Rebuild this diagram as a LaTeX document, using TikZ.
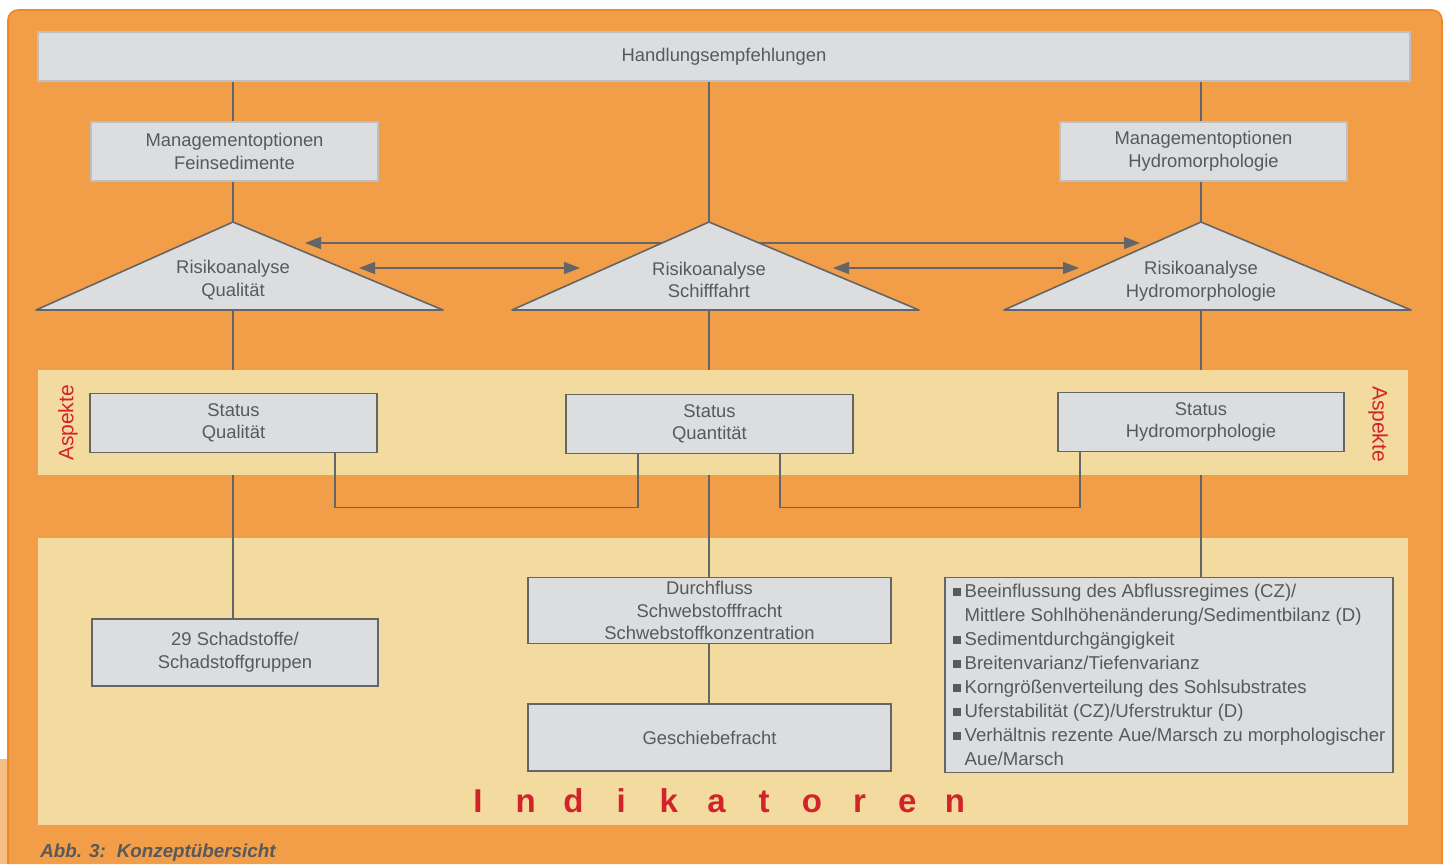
\documentclass[tikz,border=0pt]{standalone}
\usepackage{fontspec}
\setmainfont{Liberation Sans}
\usepackage{tikz}
\usetikzlibrary{arrows.meta, positioning, calc}
\definecolor{framebg}{RGB}{242,157,71}
\definecolor{frameline}{RGB}{237,137,38}
\definecolor{framelight}{RGB}{246,190,133}
\definecolor{bandbg}{RGB}{243,218,159}
\definecolor{boxgray}{RGB}{220,221,222}
\definecolor{edgelight}{RGB}{190,191,193}
\definecolor{edgedark}{RGB}{100,101,104}
\definecolor{textgray}{RGB}{88,89,91}
\definecolor{signalred}{RGB}{210,35,42}
\newcommand{\sqbul}{\makebox[6pt][l]{\rule[1pt]{4pt}{4pt}}}
\newcommand{\lbox}[1]{\makebox[23.85pt]{#1}}

\begin{document}
\begin{tikzpicture}[x=0.5pt, y=-0.5pt,
    softbox/.style={rectangle, draw=edgelight, fill=boxgray, line width=0.7pt, inner sep=0pt,
                 align=center, text=textgray, font=\fontsize{9.2}{11.3}\selectfont},
    hardbox/.style={softbox, draw=edgedark, line width=0.9pt},
    band/.style={rectangle, fill=bandbg, inner sep=0pt, minimum width=685pt},
    riskshape/.style={draw=edgedark, fill=boxgray, line width=0.8pt, line join=round},
    risktext/.style={align=center, inner sep=0pt, text=textgray, font=\fontsize{9.2}{11.3}\selectfont},
    conn/.style={draw=edgedark, line width=0.7pt},
    twoway/.style={conn, {Triangle[length=8pt,width=6pt]}-{Triangle[length=8pt,width=6pt]}},
    sidetag/.style={text=signalred, inner sep=0pt, font=\fontsize{10.5}{12}\selectfont}
]
    \useasboundingbox (0,0) rectangle (1448,864);
    % frame and bands
    \fill[framelight] (0,759) rectangle (7,864);
    \path[fill=framebg, draw=frameline, line width=0.8pt, rounded corners=5pt]
        (8,864) -- (8,10) -- (1442,10) -- (1442,864);
    \node[band, minimum height=52.5pt] (aspekte) at (723,422.5) {};
    \node[band, minimum height=143.5pt] (indik) at (723,681.5) {};

    % recommendations and options
    \node[softbox, minimum width=686pt, minimum height=24.5pt] (hand) at (724,56.5) {Handlungsempfehlungen};
    \node[softbox, minimum width=143.5pt, minimum height=29.5pt] (mgmtF) at (234.5,151.5) {Managementoptionen\\Feinsedimente};
    \node[softbox, minimum width=143.5pt, minimum height=29.5pt] (mgmtH) at (1203.5,151.5) {Managementoptionen\\Hydromorphologie};

    % risk analyses
    \coordinate (apexQ) at (233,222);
    \coordinate (apexS) at (709,222);
    \coordinate (apexH) at (1201,222);
    \draw[twoway] ([shift={(72,21)}]apexQ) -- ([shift={(-61,21)}]apexH);
    \filldraw[riskshape] (apexQ) -- ++(210,88) -- ++(-407,0) -- cycle;
    \filldraw[riskshape] (apexS) -- ++(210,88) -- ++(-407,0) -- cycle;
    \filldraw[riskshape] (apexH) -- ++(210,88) -- ++(-407,0) -- cycle;
    \node[risktext] (riskQ) at (233,280) {Risikoanalyse\\Qualität};
    \node[risktext] (riskS) at (709,280) {Risikoanalyse\\Schifffahrt};
    \node[risktext] (riskH) at (1201,281) {Risikoanalyse\\Hydromorphologie};
    \draw[twoway] ([shift={(126,46)}]apexQ) -- ([shift={(-129,46)}]apexS);
    \draw[twoway] ([shift={(124,46)}]apexS) -- ([shift={(-122,46)}]apexH);

    \draw[conn] (hand.south -| apexQ) -- (mgmtF.north -| apexQ);
    \draw[conn] (mgmtF.south -| apexQ) -- (apexQ);
    \draw[conn] (hand.south -| apexS) -- (apexS);
    \draw[conn] (hand.south -| apexH) -- (mgmtH.north -| apexH);
    \draw[conn] (mgmtH.south -| apexH) -- (apexH);
    \draw[conn] ([shift={(0,88)}]apexQ) -- (aspekte.north -| apexQ);
    \draw[conn] ([shift={(0,88)}]apexS) -- (aspekte.north -| apexS);
    \draw[conn] ([shift={(0,88)}]apexH) -- (aspekte.north -| apexH);

    % aspects
    \node[hardbox, minimum width=143.5pt, minimum height=29.5pt] (statQ) at (233.5,423) {Status\\Qualität};
    \node[hardbox, minimum width=143.5pt, minimum height=29.5pt] (statM) at (709.5,424) {Status\\Quantität};
    \node[hardbox, minimum width=143pt, minimum height=29.5pt] (statH) at (1201,422) {Status\\Hydromorphologie};
    \node[sidetag, rotate=90] (aspL) at (68,423) {Aspekte};
    \node[sidetag, rotate=-90] (aspR) at (1378,424) {Aspekte};
    \draw[conn] ([xshift=50.75pt]statQ.south) -- ++(0,54) -| ([xshift=-35.75pt]statM.south);
    \draw[conn] ([xshift=35.25pt]statM.south) -- ++(0,53) -| ([xshift=-60.5pt]statH.south);

    % indicators
    \node[hardbox, minimum width=143pt, minimum height=33.5pt] (schad) at (235,652.5) {29 Schadstoffe/\\Schadstoffgruppen};
    \node[hardbox, minimum width=181.5pt, minimum height=33pt] (durch) at (709.5,610.5) {Durchfluss\\Schwebstofffracht\\Schwebstoffkonzentration};
    \node[hardbox, minimum width=181.5pt, minimum height=33.5pt] (gesch) at (709.5,737.5) {Geschiebefracht};
    \node[hardbox, minimum width=224pt, minimum height=97.5pt, align=left, font=\fontsize{9.3}{12}\selectfont] (hydro) at (1169,675)
        {\sqbul Beeinflussung des Abflussregimes (CZ)/\\
         \hspace*{6pt}Mittlere Sohlhöhenänderung/Sedimentbilanz (D)\\
         \sqbul Sedimentdurchgängigkeit\\
         \sqbul Breitenvarianz/Tiefenvarianz\\
         \sqbul Korngrößenverteilung des Sohlsubstrates\\
         \sqbul Uferstabilität (CZ)/Uferstruktur (D)\\
         \sqbul Verhältnis rezente Aue/Marsch zu morphologischer\\
         \hspace*{6pt}Aue/Marsch};
    \draw[conn] (aspekte.south -| apexQ) -- (schad.north -| apexQ);
    \draw[conn] (aspekte.south -| apexS) -- (durch.north -| apexS);
    \draw[conn] (durch.south -| apexS) -- (gesch.north -| apexS);
    \draw[conn] (aspekte.south -| apexH) -- (hydro.north -| apexH);

    \node[anchor=base, inner sep=0pt, text=signalred, font=\fontsize{16.5}{18}\selectfont\bfseries] (indtitle) at (716.5,812.5)
        {\lbox{I}\lbox{n}\lbox{d}\lbox{i}\lbox{k}\lbox{a}\lbox{t}\lbox{o}\lbox{r}\lbox{e}\lbox{n}};
    \node[anchor=base west, inner sep=0pt, text=textgray, font=\fontsize{9.4}{11}\selectfont\bfseries\itshape] (caption) at (40,857)
        {Abb. 3:\hspace{5.5pt}Konzeptübersicht};
\end{tikzpicture}
\end{document}
